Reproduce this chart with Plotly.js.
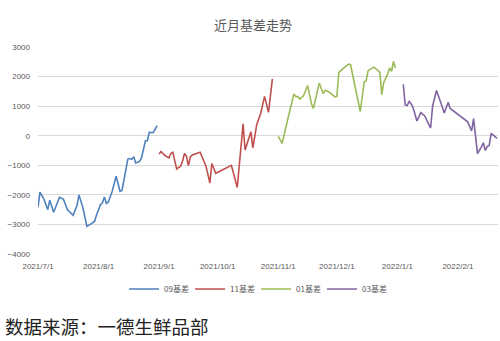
<!DOCTYPE html>
<html>
<head>
<meta charset="utf-8">
<script src="https://cdn.plot.ly/plotly-3.0.1.min.js"></script>
<style>html,body{margin:0;padding:0;background:#fff;}#chart{width:500px;height:341px;}</style>
</head>
<body>
<div id="chart"></div>
<script>
// 09基差
const dates09 = ['2021-07-01','2021-07-02','2021-07-04','2021-07-06','2021-07-07','2021-07-09','2021-07-12','2021-07-14','2021-07-16','2021-07-19','2021-07-21','2021-07-22','2021-07-24','2021-07-26','2021-07-28','2021-07-30','2021-07-31','2021-08-02','2021-08-03','2021-08-04','2021-08-05','2021-08-06','2021-08-08','2021-08-10','2021-08-12','2021-08-13','2021-08-16','2021-08-17','2021-08-18','2021-08-19','2021-08-20','2021-08-22','2021-08-23','2021-08-25','2021-08-26','2021-08-27','2021-08-28','2021-08-29','2021-08-31'];
const basis09 = [-2420,-1910,-2140,-2500,-2180,-2590,-2080,-2140,-2500,-2690,-2350,-2000,-2440,-3060,-2990,-2890,-2670,-2330,-2270,-2070,-2290,-2240,-1880,-1370,-1880,-1850,-790,-770,-800,-710,-920,-870,-750,-170,-170,120,100,110,340];
// 11基差
const dates11 = ['2021-09-01','2021-09-02','2021-09-04','2021-09-06','2021-09-07','2021-09-08','2021-09-10','2021-09-12','2021-09-13','2021-09-14','2021-09-15','2021-09-16','2021-09-17','2021-09-18','2021-09-22','2021-09-24','2021-09-25','2021-09-27','2021-09-28','2021-09-30','2021-10-02','2021-10-05','2021-10-08','2021-10-11','2021-10-14','2021-10-15','2021-10-18','2021-10-19','2021-10-21','2021-10-23','2021-10-25','2021-10-27','2021-10-29'];
const basis11 = [-620,-530,-670,-750,-600,-560,-1120,-1030,-860,-600,-690,-1010,-720,-650,-560,-860,-1030,-1600,-940,-1270,-1200,-1120,-1000,-1750,400,-480,130,-410,380,750,1330,790,1920];
// 01基差
const dates01 = ['2021-11-01','2021-11-03','2021-11-05','2021-11-09','2021-11-10','2021-11-11','2021-11-12','2021-11-14','2021-11-16','2021-11-18','2021-11-19','2021-11-21','2021-11-22','2021-11-24','2021-11-25','2021-11-27','2021-11-30','2021-12-01','2021-12-02','2021-12-04','2021-12-07','2021-12-08','2021-12-13','2021-12-15','2021-12-16','2021-12-17','2021-12-20','2021-12-22','2021-12-23','2021-12-24','2021-12-25','2021-12-27','2021-12-28','2021-12-29','2021-12-30','2021-12-31'];
const basis01 = [-20,-260,320,1410,1320,1330,1240,1360,1700,1080,920,1550,1780,1420,1540,1480,1310,1330,2140,2260,2420,2400,820,1810,1860,2200,2320,2210,2140,1390,1800,2080,2290,2180,2510,2290];
// 03基差
const dates03 = ['2022-01-04','2022-01-05','2022-01-06','2022-01-07','2022-01-08','2022-01-09','2022-01-11','2022-01-13','2022-01-15','2022-01-18','2022-01-19','2022-01-21','2022-01-23','2022-01-25','2022-01-27','2022-01-28','2022-02-06','2022-02-08','2022-02-09','2022-02-11','2022-02-13','2022-02-14','2022-02-15','2022-02-16','2022-02-17','2022-02-18','2022-02-21'];
const basis03 = [1740,1040,1020,1160,1080,950,500,780,670,260,990,1530,1160,770,1130,920,470,160,575,-605,-380,-240,-500,-360,-330,80,-90];

const seriesNames = ['09基差','11基差','01基差','03基差'];
const seriesColors = ['#4F81BD','#C0504D','#9BBB59','#8064A2'];
const yTicks = [-4000,-3000,-2000,-1000,0,1000,2000,3000];
const chartTitle = '近月基差走势';
const sourceText = '数据来源：一德生鲜品部';

const allDates = [dates09, dates11, dates01, dates03];
const allVals = [basis09, basis11, basis01, basis03];

const traces = allDates.map((d, i) => ({
  type: 'scatter', mode: 'lines', x: d, y: allVals[i], name: seriesNames[i],
  line: {color: seriesColors[i], width: 1.6}
}));

const layout = {
  width: 500, height: 341,
  margin: {l: 38, r: 2, t: 47, b: 87},
  paper_bgcolor: '#fff', plot_bgcolor: '#fff',
  font: {family: 'Liberation Sans, Arial, sans-serif', color: '#595959', size: 8},
  title: {text: chartTitle, x: 0.506, xanchor: 'center', y: 1 - 25/341, yanchor: 'middle',
          font: {family: 'Noto Sans CJK SC', size: 13, color: '#595959'}},
  xaxis: {type: 'date', range: ['2021-07-01', '2022-02-21 12:00'], tick0: '2021-07-01', dtick: 'M1',
          tickformat: '%Y/%-m/%-d', showgrid: false, zeroline: false, showline: false, ticks: '',
          ticklabelstandoff: 6, tickfont: {size: 8, color: '#595959'}},
  yaxis: {range: [-4000, 3000], tickvals: yTicks, gridcolor: '#d9d9d9', gridwidth: 1, zeroline: false,
          showline: false, ticks: '', ticklabelstandoff: 7, tickfont: {size: 8, color: '#595959'}},
  showlegend: true,
  legend: {orientation: 'h', x: 0.474, xanchor: 'center', y: -0.169, yanchor: 'middle',
           font: {family: 'Noto Sans CJK SC', size: 8, color: '#595959'}, itemwidth: 30,
           entrywidth: 21, bgcolor: 'rgba(0,0,0,0)'},
  annotations: [{text: sourceText, xref: 'paper', yref: 'paper', x: -0.076, xanchor: 'left',
                 y: -0.348, yanchor: 'middle', showarrow: false,
                 font: {family: 'Noto Sans CJK SC', size: 18.5, color: '#222'}}]
};

Plotly.newPlot('chart', traces, layout, {displayModeBar: false, staticPlot: true});
</script>
</body>
</html>
